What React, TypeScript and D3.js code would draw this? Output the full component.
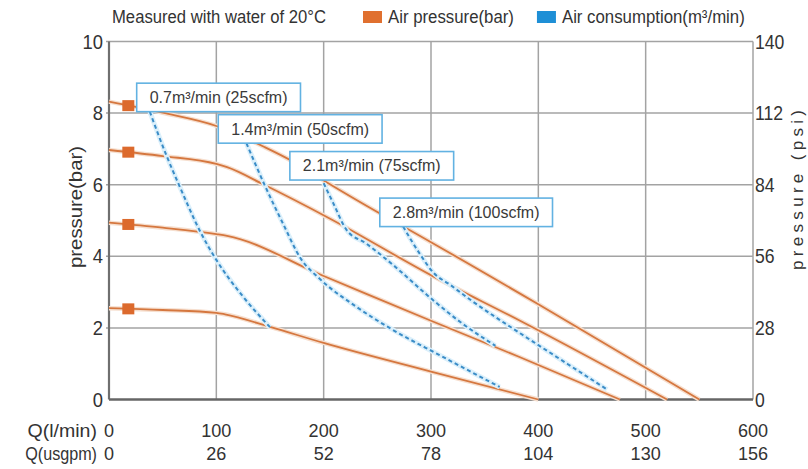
import React, { useEffect, useRef } from "react";
import * as d3 from "d3";

const W = 808;
const H = 469;

// Axis ticks
const flowTicks = [0, 100, 200, 300, 400, 500, 600];
const usgpmTicks = ["0", "26", "52", "78", "104", "130", "156"];
const barTicks = [0, 2, 4, 6, 8, 10];
const psiTicks = ["0", "28", "56", "84", "112", "140"];

// Air pressure curves: [flow l/min, pressure bar]
const pressure83: [number, number][] = [
  [0, 8.32], [50, 8.01], [100, 7.64], [145, 7.05], [170, 6.67], [200, 6.12], [250, 5.24], [275, 4.82], [400, 2.66], [550, 0],
];
const pressure69: [number, number][] = [
  [0, 6.97], [50, 6.8], [100, 6.58], [110, 6.49], [145, 5.99], [206, 5.05], [302, 3.44], [383, 2.2], [520, 0],
];
const pressure49: [number, number][] = [
  [0, 4.94], [50, 4.8], [100, 4.62], [110, 4.57], [200, 3.45], [300, 2.2], [383, 1.18], [476, 0],
];
const pressure25: [number, number][] = [
  [0, 2.55], [50, 2.5], [100, 2.42], [108, 2.38], [150, 2.03], [200, 1.58], [300, 0.78], [400, 0],
];
const pressureCurves = [pressure83, pressure69, pressure49, pressure25];
const markerFlow = 18;

// Air consumption curves
const consumption07: [number, number][] = [
  [38, 8.04], [54, 6.78], [66, 5.94], [85, 4.69], [100, 3.9], [125, 2.87], [150, 2.02],
];
const consumption14: [number, number][] = [
  [128, 7.16], [145, 5.99], [162, 4.92], [179, 3.92], [196, 3.38], [230, 2.6], [263, 1.97], [308, 1.24], [364, 0.35],
];
const consumption21: [number, number][] = [
  [200, 6.04], [209, 5.48], [221, 4.75], [240, 4.35], [265, 3.75], [299, 2.85], [327, 2.17], [360, 1.5],
];
const consumption28: [number, number][] = [
  [274, 4.83], [290, 4.05], [302, 3.55], [318, 3.2], [336, 2.8], [383, 1.85], [401, 1.5], [464, 0.28],
];
const consumptionCurves = [consumption07, consumption14, consumption21, consumption28];

// Labels for consumption curves, anchored at the box's bottom-left corner (flow, bar)
const consumptionLabels = ["0.7m³/min (25scfm)", "1.4m³/min (50scfm)", "2.1m³/min (75scfm)", "2.8m³/min (100scfm)"];
const labelAnchorFlow = [25.8, 101.8, 168.5, 252.3];
const labelAnchorBar = [8.04, 7.16, 6.13, 4.83];

const legendNote = "Measured with water of 20°C";
const legendItems = ["Air pressure(bar)", "Air consumption(m³/min)"];

const FONT = "'Liberation Sans', Arial, Helvetica, sans-serif";
const ORANGE = "#d5773f";
const MARKER = "#dc6a2d";
const BLUE_DASH = "#3a8cc7";
const LEGEND_COLORS = ["#e0702f", "#1e8fd6"];

function interp(data: [number, number][], q: number): number {
  for (let i = 0; i < data.length - 1; i++) {
    const [x0, y0] = data[i];
    const [x1, y1] = data[i + 1];
    if (q >= x0 && q <= x1) return y0 + ((q - x0) / (x1 - x0)) * (y1 - y0);
  }
  return data[data.length - 1][1];
}

export default function App() {
  const ref = useRef<SVGSVGElement | null>(null);

  useEffect(() => {
    const svg = d3.select(ref.current);
    svg.selectAll("*").remove();

    const x = d3.scaleLinear().domain([0, 600]).range([109, 753]);
    const y = d3.scaleLinear().domain([0, 10]).range([399.5, 41.5]);

    const root = svg.append("g").attr("font-family", FONT).attr("fill", "#333");

    const addText = (
      g: any, px: number, py: number, s: string, size: number, anchor: string, sx = 1,
    ) =>
      g.append("text")
        .attr("transform", `translate(${px},${py}) scale(${sx},1)`)
        .attr("text-anchor", anchor)
        .attr("font-size", size)
        .attr("dy", "0.35em")
        .text(s);

    // grid
    const grid = root.append("g").attr("stroke", "#a3a3a3").attr("stroke-width", 1.5);
    grid.selectAll("line.h").data(barTicks.filter((d) => d > 0)).join("line")
      .attr("x1", x(0) - 3).attr("x2", x(600)).attr("y1", (d) => y(d)).attr("y2", (d) => y(d));
    grid.selectAll("line.v").data(flowTicks.filter((d) => d > 0)).join("line")
      .attr("class", "v")
      .attr("x1", (d) => x(d)).attr("x2", (d) => x(d)).attr("y1", y(0)).attr("y2", y(10));

    // left & bottom axes
    root.append("line").attr("x1", x(0)).attr("x2", x(0)).attr("y1", y(0)).attr("y2", y(10))
      .attr("stroke", "#6f6f6f").attr("stroke-width", 2.2);
    root.append("line").attr("x1", x(0)).attr("x2", x(600)).attr("y1", y(0)).attr("y2", y(0))
      .attr("stroke", "#666").attr("stroke-width", 2.6);

    const line = d3.line<[number, number]>().x((d) => x(d[0])).y((d) => y(d[1])).curve(d3.curveMonotoneX);

    // pressure curves (with faint halo)
    root.append("g").selectAll("path").data(pressureCurves).join("path")
      .attr("d", (d) => line(d)).attr("fill", "none").attr("stroke", "#f6dfcf").attr("stroke-width", 4.5);
    root.append("g").selectAll("path").data(pressureCurves).join("path")
      .attr("d", (d) => line(d)).attr("fill", "none").attr("stroke", ORANGE).attr("stroke-width", 1.8);

    // consumption curves (glow + dash)
    root.append("g").selectAll("path").data(consumptionCurves).join("path")
      .attr("d", (d) => line(d)).attr("fill", "none").attr("stroke", "#dcf0fb").attr("stroke-width", 5);
    root.append("g").selectAll("path").data(consumptionCurves).join("path")
      .attr("d", (d) => line(d)).attr("fill", "none").attr("stroke", BLUE_DASH).attr("stroke-width", 2)
      .attr("stroke-dasharray", "4 3");

    // markers
    root.append("g").selectAll("rect").data(pressureCurves).join("rect")
      .attr("x", x(markerFlow) - 6).attr("y", (d) => y(interp(d, markerFlow)) - 5.5)
      .attr("width", 12).attr("height", 11).attr("fill", MARKER);

    // consumption label boxes
    const boxes = root.append("g");
    consumptionLabels.forEach((s, i) => {
      const bx = x(labelAnchorFlow[i]);
      const by = y(labelAnchorBar[i]);
      const bh = 28.5;
      const g = boxes.append("g");
      const rect = g.append("rect").attr("fill", "white").attr("stroke", "#62b2e2").attr("stroke-width", 1.6);
      const t = g.append("text").attr("x", bx + 13).attr("y", by - bh / 2).attr("dy", "0.35em")
        .attr("font-size", 16).attr("fill", "#3a3a3a").text(s);
      const tw = (t.node() as SVGTextElement).getComputedTextLength();
      rect.attr("x", bx).attr("y", by - bh).attr("width", tw + 26).attr("height", bh);
    });

    // left ticks
    const tl = root.append("g");
    barTicks.forEach((d) => addText(tl, x(0) - 6, y(d), String(d), 20, "end", 0.92));
    // right ticks
    const tr = root.append("g");
    psiTicks.forEach((s, i) => addText(tr, x(600) + 2, y(barTicks[i]), s, 20, "start", 0.88));
    // bottom ticks
    const tb = root.append("g");
    flowTicks.forEach((d) => addText(tb, x(d), 430, String(d), 19, "middle", 0.95));
    usgpmTicks.forEach((s, i) => addText(tb, x(flowTicks[i]), 453.5, s, 19, "middle", 0.95));
    addText(tb, x(0) - 12, 430, "Q(l/min)", 19, "end", 1.03);
    addText(tb, x(0) - 12, 453.5, "Q(usgpm)", 19, "end", 0.85);

    // axis titles
    root.append("text").attr("transform", `translate(75,207) rotate(-90)`)
      .attr("text-anchor", "middle").attr("dy", "0.35em").attr("font-size", 19)
      .attr("textLength", 122).attr("lengthAdjust", "spacingAndGlyphs").text("pressure(bar)");
    root.append("text").attr("transform", `translate(797,190) rotate(-90)`)
      .attr("text-anchor", "middle").attr("dy", "0.35em").attr("font-size", 17)
      .attr("textLength", 160).attr("lengthAdjust", "spacing").text("pressure (psi)");

    // legend
    const lg = root.append("g");
    const ly = 17;
    let cx = 112;
    lg.append("text").attr("x", cx).attr("y", ly).attr("dy", "0.35em").attr("font-size", 17.5)
      .attr("textLength", 214).attr("lengthAdjust", "spacingAndGlyphs").text(legendNote);
    cx += 214 + 37;
    const gaps = [23, 0];
    legendItems.forEach((s, i) => {
      lg.append("rect").attr("x", cx).attr("y", ly - 6).attr("width", 19).attr("height", 12).attr("fill", LEGEND_COLORS[i]);
      cx += 19 + 6;
      const t = lg.append("text").attr("x", cx).attr("y", ly).attr("dy", "0.35em").attr("font-size", 17.5)
        .attr("transform", `translate(${cx * (1 - 0.96)},0) scale(0.96,1)`).text(s);
      const tw = (t.node() as SVGTextElement).getComputedTextLength() * 0.96;
      cx += tw + gaps[i];
    });
  }, []);

  return (
    <svg
      ref={ref}
      width={W}
      height={H}
      viewBox={`0 0 ${W} ${H}`}
      style={{ position: "absolute", left: 0, top: 0, background: "white" }}
    />
  );
}
